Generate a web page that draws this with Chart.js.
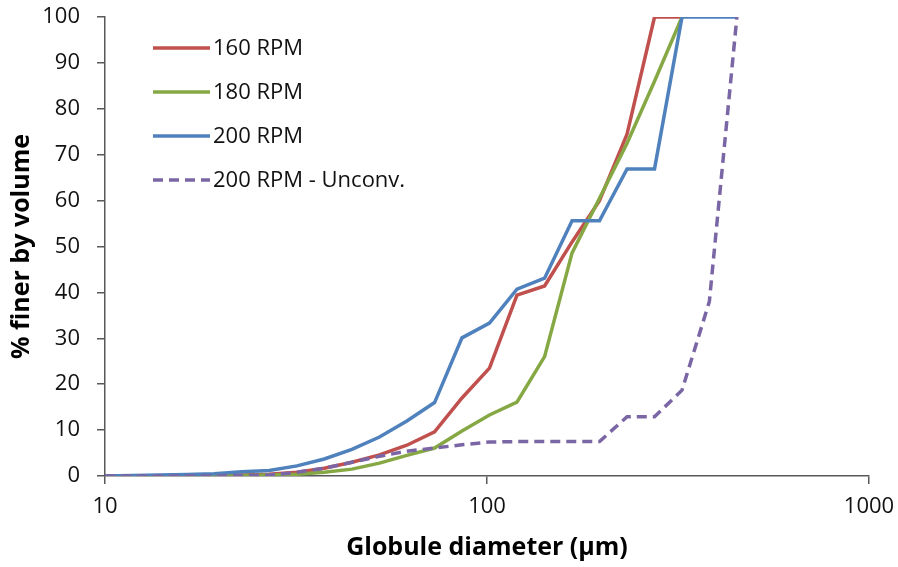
<!DOCTYPE html>
<html>
<head>
    <meta charset="utf-8" />
    <title>Globule size distribution</title>
    <script src="https://cdn.jsdelivr.net/npm/chart.js"></script>
    <style>
        body { margin: 0; background: #fff; }
    </style>
</head>
<body>
<div style="width: 898px; height: 567px;">
    <canvas id="sizes"></canvas>
</div>

<script>
    // sieve diameters (µm), each step about 1.18x the last
    const diameters = [10, 11.8, 13.9, 16.4, 19.3, 22.8, 26.9, 31.8, 37.5, 44.3, 52.3, 61.7,
        72.9, 86, 101.5, 119.8, 141.5, 167, 197, 232.6, 274.5, 324, 382, 451];

    // cumulative % finer by volume
    const rpm160 = [0, 0, 0, 0, 0.1, 0.2, 0.4, 0.8, 1.7, 3.0, 4.6, 6.7,
        9.6, 17, 23.5, 39.4, 41.4, 51, 60, 74.5, 100, 100, null, null];
    const rpm180 = [0, 0, 0, 0, 0, 0.1, 0.2, 0.4, 0.8, 1.5, 2.8, 4.5,
        6.1, 9.8, 13.3, 16.1, 26, 48.6, 60.5, 72.5, 86, 100, null, null];
    const rpm200 = [0, 0.1, 0.2, 0.3, 0.5, 0.9, 1.2, 2.2, 3.7, 5.8, 8.5, 12,
        16, 30.1, 33.3, 40.7, 43.1, 55.6, 55.6, 66.9, 66.9, 100, 100, 100];
    const rpm200Unconv = [0, 0, 0, 0, 0, 0.1, 0.2, 0.8, 1.7, 3.0, 4.3, 5.4,
        6.1, 6.8, 7.4, 7.5, 7.5, 7.5, 7.5, 12.9, 12.9, 18.7, 38, 100];

    const xTicks = [10, 100, 1000];

    const axisColor = '#595959';
    const textColor = '#111';
    const lineWidth = 3.5;

    function points(values) {
        const out = [];
        values.forEach((v, i) => {
            if (v !== null) out.push({ x: diameters[i], y: v });
        });
        return out;
    }

    // legend drawn inside the plot, top left
    const insideLegend = {
        id: 'insideLegend',
        afterDatasetsDraw(chart, args, opts) {
            const c = chart.ctx;
            c.save();
            c.font = opts.font;
            c.fillStyle = textColor;
            c.textBaseline = 'middle';
            chart.data.datasets.forEach((ds, i) => {
                const y = opts.top + i * opts.rowGap;
                c.beginPath();
                c.strokeStyle = ds.borderColor;
                c.lineWidth = ds.borderWidth;
                c.setLineDash(ds.borderDash || []);
                c.moveTo(opts.left, y);
                c.lineTo(opts.left + opts.lineLength, y);
                c.stroke();
                c.setLineDash([]);
                c.fillText(ds.label, opts.left + opts.lineLength + 3, y + 1);
            });
            c.restore();
        }
    };

    Chart.defaults.font.family = "'Open Sans', sans-serif";
    Chart.defaults.color = textColor;

    new Chart(document.getElementById('sizes'), {
        type: 'line',
        data: {
            datasets: [{
                label: '160 RPM',
                data: points(rpm160),
                borderColor: '#C0504D',
                borderWidth: lineWidth,
                order: 3,
            }, {
                label: '180 RPM',
                data: points(rpm180),
                borderColor: '#86A844',
                borderWidth: lineWidth,
                order: 2,
            }, {
                label: '200 RPM',
                data: points(rpm200),
                borderColor: '#4F81BD',
                borderWidth: lineWidth,
                order: 1,
            }, {
                label: '200 RPM - Unconv.',
                data: points(rpm200Unconv),
                borderColor: '#7B66A5',
                borderWidth: lineWidth,
                borderDash: [10, 6],
                order: 0,
            }]
        },
        options: {
            responsive: true,
            maintainAspectRatio: false,
            animation: false,
            layout: {
                padding: { top: 17, right: 29, left: 0, bottom: 0 },
            },
            elements: {
                line: { tension: 0, fill: false },
                point: { radius: 0 },
            },
            plugins: {
                legend: { display: false },
                tooltip: { enabled: false },
                insideLegend: {
                    left: 153,
                    top: 48,
                    rowGap: 44,
                    lineLength: 57,
                    font: "22px 'Open Sans', sans-serif",
                },
            },
            scales: {
                x: {
                    type: 'logarithmic',
                    min: 10,
                    max: 1000,
                    afterBuildTicks: (scale) => {
                        scale.ticks = xTicks.map(v => ({ value: v }));
                    },
                    afterFit: (scale) => {
                        scale.height = 91;
                        scale.paddingLeft = 0;
                        scale.paddingRight = 0;
                    },
                    ticks: {
                        callback: (v) => String(v),
                        font: { size: 22 },
                        padding: 10,
                        maxRotation: 0,
                        autoSkip: false,
                    },
                    grid: {
                        drawOnChartArea: false,
                        tickLength: 8,
                        color: axisColor,
                        lineWidth: 1.5,
                    },
                    border: { color: axisColor, width: 1.5 },
                    title: {
                        display: true,
                        text: 'Globule diameter (µm)',
                        font: { size: 25, weight: 'bold' },
                        color: '#000',
                        padding: { top: 0, bottom: 4 },
                    },
                },
                y: {
                    min: 0,
                    max: 100,
                    afterFit: (scale) => {
                        scale.width = 105;
                        scale.paddingTop = 0;
                        scale.paddingBottom = 0;
                    },
                    ticks: {
                        stepSize: 10,
                        font: { size: 22 },
                        padding: 17,
                    },
                    grid: {
                        drawOnChartArea: false,
                        tickLength: 8,
                        color: axisColor,
                        lineWidth: 1.5,
                    },
                    border: { color: axisColor, width: 1.5 },
                    title: {
                        display: true,
                        text: '% finer by volume',
                        font: { size: 25, weight: 'bold' },
                        color: '#000',
                        padding: { top: 7, bottom: 0 },
                    },
                },
            },
        },
        plugins: [insideLegend],
    });
</script>
</body>
</html>
